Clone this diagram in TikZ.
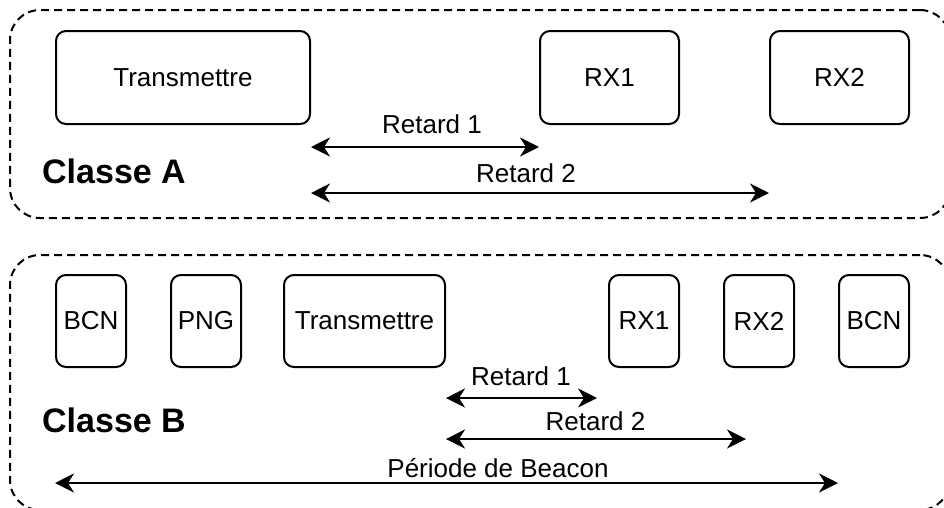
\documentclass[tikz,border=0pt]{standalone}
\usepackage{fontspec}
\setmainfont{Liberation Sans}
\usetikzlibrary{arrows.meta}

\begin{document}
\begin{tikzpicture}[x=1pt,y=-1pt]
		\tikzstyle{groupe} = [draw, line width=2pt, dash pattern=on 8pt off 5pt, rounded corners=30pt, inner sep=0pt]
		\tikzstyle{bloc} = [draw, rectangle, rounded corners=10pt, line width=2pt, minimum height=93pt, inner sep=0pt, font=\fontsize{26}{30}\selectfont]
		\tikzstyle{lbl} = [anchor=base, inner sep=0pt, font=\fontsize{26}{30}\selectfont]
		\tikzstyle{titre} = [anchor=base west, inner sep=0pt, font=\fontsize{34}{40}\selectfont\bfseries]
		\tikzstyle{fleche} = [{Stealth[length=19pt,width=19pt,inset=6pt]}-{Stealth[length=19pt,width=19pt,inset=6pt]}, line width=2pt]
		\clip (0,0) rectangle (944,507);

		% Classe A
		\node [groupe, minimum width=940pt, minimum height=208pt] (classeA) at (480,114) {};
		\node [bloc, minimum width=254pt] (txA) at (183,77.5) {Transmettre};
		\node [bloc, minimum width=139pt] (rxA1) at (609.5,77.5) {RX1};
		\node [bloc, minimum width=139pt] (rxA2) at (839.5,77.5) {RX2};
		\node [titre] (titreA) at (42,183) {Classe A};

		\draw[fleche] (txA.east |- 0,147) -- (rxA1.west |- 0,147);
		\node [lbl] (r1A) at (432,133) {Retard 1};
		\draw[fleche] (txA.east |- 0,193) -- (rxA2.west |- 0,193);
		\node [lbl] (r2A) at (526,182) {Retard 2};

		% Classe B
		\node [groupe, minimum width=940pt, minimum height=255pt] (classeB) at (480,382.5) {};
		\node [bloc, minimum width=70pt, minimum height=92pt] (bcnB1) at (91,321) {BCN};
		\node [bloc, minimum width=70pt, minimum height=92pt] (pngB) at (206,321) {PNG};
		\node [bloc, minimum width=161pt, minimum height=92pt] (txB) at (364.5,321) {Transmettre};
		\node [bloc, minimum width=70pt, minimum height=92pt] (rxB1) at (644,321) {RX1};
		\node [bloc, minimum width=70pt, minimum height=92pt] (rxB2) at (759,321) {RX2};
		\node [bloc, minimum width=70pt, minimum height=92pt] (bcnB2) at (874,321) {BCN};
		\node [titre] (titreB) at (42,432) {Classe B};

		\coordinate (finR1) at (597,398);
		\coordinate (finR2) at (746,439);
		\draw[fleche] (txB.east |- finR1) -- (finR1);
		\node [lbl] (r1B) at (521,385) {Retard 1};
		\draw[fleche] (txB.east |- finR2) -- (finR2);
		\node [lbl] (r2B) at (595.5,430) {Retard 2};
		\draw[fleche] (bcnB1.west |- 0,483) -- (bcnB2.west |- 0,483);
		\node [lbl] (periode) at (498,477) {Période de Beacon};
	\end{tikzpicture}
\end{document}
